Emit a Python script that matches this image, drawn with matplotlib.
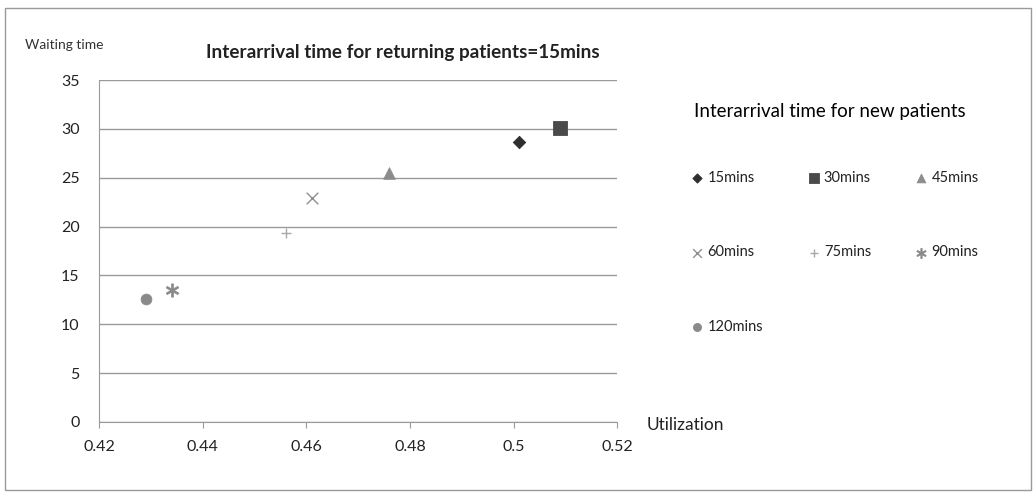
import matplotlib.pyplot as plt
from matplotlib.patches import Rectangle

plt.rcParams['font.family'] = ['Lato', 'DejaVu Sans']

# waiting time vs. utilization for each new-patient interarrival time
labels = ['15mins', '30mins', '45mins', '60mins', '75mins', '90mins', '120mins']
utilization = [0.501, 0.509, 0.476, 0.461, 0.456, 0.434, 0.429]
waiting_time = [28.7, 30.1, 25.5, 22.9, 19.3, 13.5, 12.6]
markers = ['D', 's', '^', 'x', '+', '$\u2217$', 'o']
colors = ['#2e2e2e', '#4a4a4a', '#8c8c8c', '#8f8f8f', '#a8a8a8', '#8a8a8a', '#8a8a8a']
sizes = [40, 90, 70, 70, 55, 90, 60]

x_ticks = [0.42, 0.44, 0.46, 0.48, 0.5, 0.52]
x_tick_labels = ['0.42', '0.44', '0.46', '0.48', '0.5', '0.52']
y_ticks = [0, 5, 10, 15, 20, 25, 30, 35]

fig = plt.figure(figsize=(10.36, 4.97), dpi=100)
ax = fig.add_axes([0.0955, 0.151, 0.5005, 0.688])

handles = []
for lab, x, y, m, c, s in zip(labels, utilization, waiting_time, markers, colors, sizes):
    if m in ('x', '+'):
        h = ax.scatter(x, y, marker=m, s=s, color=c, linewidths=1.0, label=lab, zorder=3)
    else:
        h = ax.scatter(x, y, marker=m, s=s, color=c, edgecolors=c, linewidths=0.6, label=lab, zorder=3)
    handles.append(h)

ax.set_xlim(0.42, 0.52)
ax.set_ylim(0, 35)
ax.set_xticks(x_ticks)
ax.set_xticklabels(x_tick_labels)
ax.set_yticks(y_ticks)
ax.yaxis.grid(True, color='#9a9a9a', linewidth=1.0)
ax.set_axisbelow(True)
for side in ['top', 'right']:
    ax.spines[side].set_visible(False)
ax.spines['left'].set_color('#9a9a9a')
ax.spines['bottom'].set_color('#9a9a9a')
ax.tick_params(axis='y', length=0, pad=14, labelsize=11.5, colors='#222222')
ax.tick_params(axis='x', length=4, color='#9a9a9a', pad=9, labelsize=11.5, colors='#222222')

fig.text(0.024, 0.909, 'Waiting time', fontsize=10, color='#333333', va='center')
fig.text(0.389, 0.895, 'Interarrival time for returning patients=15mins', fontsize=13.6,
         fontweight='bold', ha='center', va='center', color='#222222')
fig.text(0.624, 0.145, 'Utilization', fontsize=12.5, color='#222222', va='center')

# legend columns filled top-down: 15/60/120, 30/75, 45/90
order = [0, 3, 6, 1, 4, 2, 5]
leg = fig.legend([handles[i] for i in order], [labels[i] for i in order],
                 loc='upper left', bbox_to_anchor=(0.657, 0.82), ncol=3,
                 frameon=False, fontsize=10.5, title='Interarrival time for new patients',
                 title_fontsize=13.5, alignment='left', labelspacing=4.15,
                 handlelength=0.5, handletextpad=0.45, columnspacing=3.2,
                 markerscale=0.75)
for t in leg.get_texts():
    t.set_color('#222222')
leg._legend_box.sep = 37

fig.patches.append(Rectangle((0.005, 0.014), 0.99, 0.97, transform=fig.transFigure,
                             fill=False, edgecolor='#9a9a9a', linewidth=1.0))

fig.savefig('out.png', dpi=100)
